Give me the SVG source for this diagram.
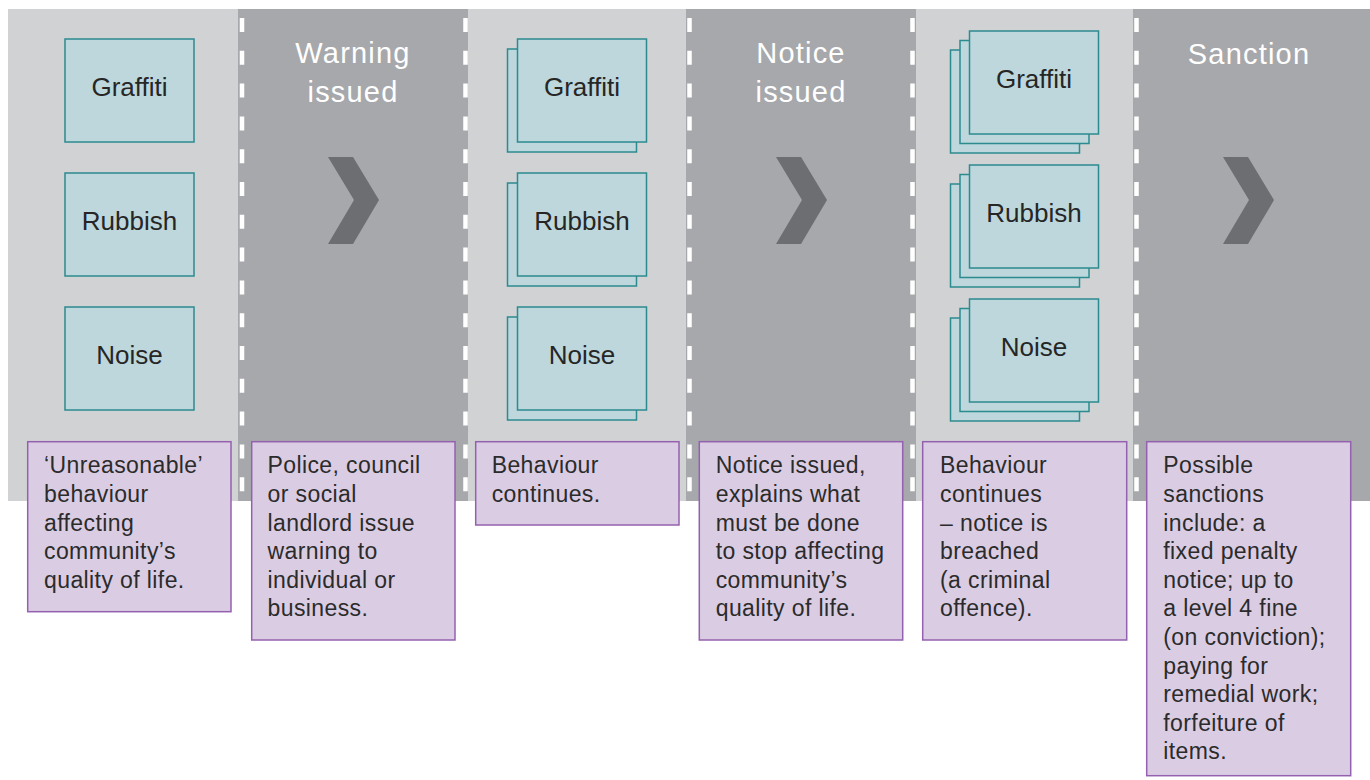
<svg xmlns="http://www.w3.org/2000/svg" width="1370" height="780" viewBox="0 0 1370 780">
<style>
.dark{fill:#a7a8ab}
.light{fill:#d1d2d4}
.dash{stroke:#ffffff;stroke-width:4.5;stroke-dasharray:14 18.8;fill:none}
.tb{fill:#bdd7dc;stroke:#2b8b8e;stroke-width:1.5}
.tl{font-family:"Liberation Sans",Arial,sans-serif;font-size:26px;fill:#262626;text-anchor:middle}
.title{font-family:"Liberation Sans",Arial,sans-serif;font-size:29px;letter-spacing:1.2px;fill:#ffffff;text-anchor:middle}
.chev{fill:#6d6e71}
.pb{fill:#dacde3;stroke:#9460b0;stroke-width:1.5}
.pt{font-family:"Liberation Sans",Arial,sans-serif;font-size:23px;letter-spacing:0.4px;fill:#2b2b2b}
</style>
<g id="background">
<rect class="dark" x="8" y="9" width="1362" height="492"/>
<rect class="light" x="8" y="9" width="230" height="492"/>
<rect class="light" x="468" y="9" width="218" height="492"/>
<rect class="light" x="916" y="9" width="217" height="492"/>
<line class="dash" x1="242" y1="18" x2="242" y2="501"/>
<line class="dash" x1="465.5" y1="18" x2="465.5" y2="501"/>
<line class="dash" x1="689.5" y1="18" x2="689.5" y2="501"/>
<line class="dash" x1="912.5" y1="18" x2="912.5" y2="501"/>
<line class="dash" x1="1136.5" y1="18" x2="1136.5" y2="501"/>
</g>
<g id="titles">
<text class="title" x="353" y="63"><tspan x="353">Warning</tspan><tspan x="353" dy="38.5">issued</tspan></text>
<text class="title" x="801" y="63"><tspan x="801">Notice</tspan><tspan x="801" dy="38.5">issued</tspan></text>
<text class="title" x="1249" y="64">Sanction</text>
</g>
<g id="col1-graffiti"><rect class="tb" x="65" y="39" width="129" height="103"/><text class="tl" x="129.5" y="96">Graffiti</text></g>
<g id="col1-rubbish"><rect class="tb" x="65" y="173" width="129" height="103"/><text class="tl" x="129.5" y="230">Rubbish</text></g>
<g id="col1-noise"><rect class="tb" x="65" y="307" width="129" height="103"/><text class="tl" x="129.5" y="364">Noise</text></g>
<g id="col3-graffiti"><rect class="tb" x="507.5" y="49" width="129" height="103"/><rect class="tb" x="517.5" y="39" width="129" height="103"/><text class="tl" x="582" y="96">Graffiti</text></g>
<g id="col3-rubbish"><rect class="tb" x="507.5" y="183" width="129" height="103"/><rect class="tb" x="517.5" y="173" width="129" height="103"/><text class="tl" x="582" y="230">Rubbish</text></g>
<g id="col3-noise"><rect class="tb" x="507.5" y="317" width="129" height="103"/><rect class="tb" x="517.5" y="307" width="129" height="103"/><text class="tl" x="582" y="364">Noise</text></g>
<g id="col5-graffiti"><rect class="tb" x="950.5" y="50" width="129" height="103"/><rect class="tb" x="960" y="40.5" width="129" height="103"/><rect class="tb" x="969.5" y="31" width="129" height="103"/><text class="tl" x="1034" y="88">Graffiti</text></g>
<g id="col5-rubbish"><rect class="tb" x="950.5" y="184" width="129" height="103"/><rect class="tb" x="960" y="174.5" width="129" height="103"/><rect class="tb" x="969.5" y="165" width="129" height="103"/><text class="tl" x="1034" y="222">Rubbish</text></g>
<g id="col5-noise"><rect class="tb" x="950.5" y="318" width="129" height="103"/><rect class="tb" x="960" y="308.5" width="129" height="103"/><rect class="tb" x="969.5" y="299" width="129" height="103"/><text class="tl" x="1034" y="356">Noise</text></g>
<g id="connectors">
<polygon class="chev" points="328,157 353,157 379,200 353,244 328,244 354,200"/>
<polygon class="chev" points="776,157 801,157 827,200 801,244 776,244 802,200"/>
<polygon class="chev" points="1223,157 1248,157 1274,200 1248,244 1223,244 1249,200"/>
</g>
<g id="desc1"><rect class="pb" x="27.7" y="441.7" width="203.3" height="170"/>
<text class="pt" y="473.3"><tspan x="44" y="473.3">‘Unreasonable’</tspan><tspan x="44" y="501.9">behaviour</tspan><tspan x="44" y="530.5">affecting</tspan><tspan x="44" y="559.1">community’s</tspan><tspan x="44" y="587.7">quality of life.</tspan></text></g>
<g id="desc2"><rect class="pb" x="251.7" y="441.7" width="203.3" height="198.3"/>
<text class="pt"><tspan x="267.5" y="473.3">Police, council</tspan><tspan x="267.5" y="501.9">or social</tspan><tspan x="267.5" y="530.5">landlord issue</tspan><tspan x="267.5" y="559.1">warning to</tspan><tspan x="267.5" y="587.7">individual or</tspan><tspan x="267.5" y="616.3">business.</tspan></text></g>
<g id="desc3"><rect class="pb" x="475.7" y="441.7" width="203.3" height="83.3"/>
<text class="pt"><tspan x="491.7" y="473.3">Behaviour</tspan><tspan x="491.7" y="501.9">continues.</tspan></text></g>
<g id="desc4"><rect class="pb" x="699.3" y="441.7" width="203.4" height="198.3"/>
<text class="pt"><tspan x="715.7" y="473.3">Notice issued,</tspan><tspan x="715.7" y="501.9">explains what</tspan><tspan x="715.7" y="530.5">must be done</tspan><tspan x="715.7" y="559.1">to stop affecting</tspan><tspan x="715.7" y="587.7">community’s</tspan><tspan x="715.7" y="616.3">quality of life.</tspan></text></g>
<g id="desc5"><rect class="pb" x="922.7" y="441.7" width="204" height="198.3"/>
<text class="pt"><tspan x="940" y="473.3">Behaviour</tspan><tspan x="940" y="501.9">continues</tspan><tspan x="940" y="530.5">– notice is</tspan><tspan x="940" y="559.1">breached</tspan><tspan x="940" y="587.7">(a criminal</tspan><tspan x="940" y="616.3">offence).</tspan></text></g>
<g id="desc6"><rect class="pb" x="1146.7" y="441.7" width="204" height="334"/>
<text class="pt"><tspan x="1163.3" y="473.3">Possible</tspan><tspan x="1163.3" y="501.9">sanctions</tspan><tspan x="1163.3" y="530.5">include: a</tspan><tspan x="1163.3" y="559.1">fixed penalty</tspan><tspan x="1163.3" y="587.7">notice; up to</tspan><tspan x="1163.3" y="616.3">a level 4 fine</tspan><tspan x="1163.3" y="644.9">(on conviction);</tspan><tspan x="1163.3" y="673.5">paying for</tspan><tspan x="1163.3" y="702.1">remedial work;</tspan><tspan x="1163.3" y="730.7">forfeiture of</tspan><tspan x="1163.3" y="759.3">items.</tspan></text></g>
</svg>
